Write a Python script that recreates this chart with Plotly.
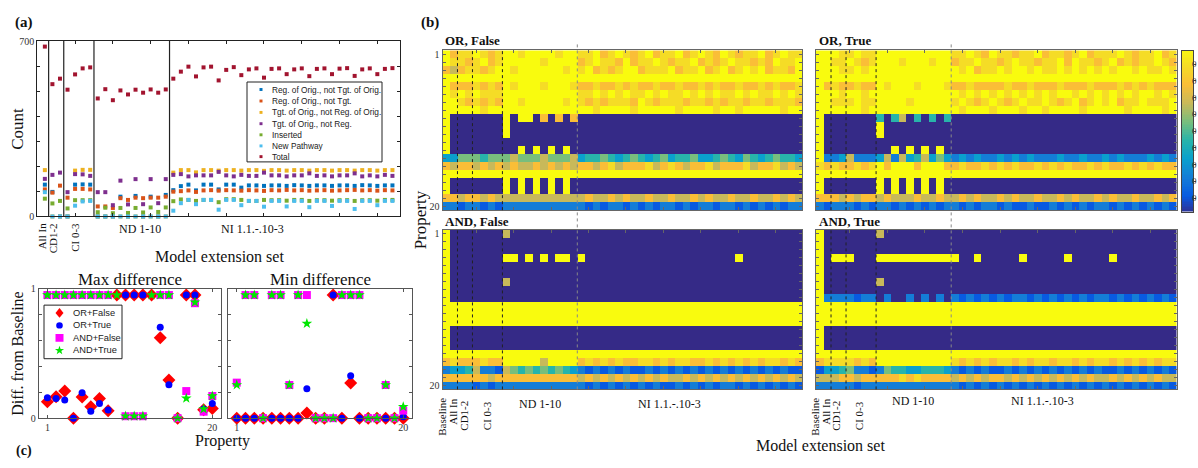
import math
import plotly.graph_objects as go

W, H = 1198, 468

# ---------------- Panel (a) data: 47 model extension sets ----------------
ext_x = list(range(1, 48))
reg_not_tgt_orig = [127, 98, 0, 0, 127, 128, 127,
                    0, 0, 0, 79, 0, 82, 0, 79, 0, 86,
                    105, 121, 127, 104, 127, 127, 108, 127, 127, 115,
                    124, 124, 122, 124, 124, 122, 125, 124, 122, 124,
                    124, 122, 124, 124, 122, 125, 124, 122, 124, 124]
reg_not_tgt = [108, 95, 123, 75, 110, 110, 108,
               40, 40, 34, 73, 66, 75, 73, 75, 75, 79,
               99, 101, 104, 98, 104, 105, 103, 105, 104, 103,
               105, 104, 102, 105, 104, 106, 104, 105, 103, 104,
               105, 103, 104, 105, 106, 104, 105, 103, 105, 104]
tgt_not_reg_orig = [185, 0, 0, 0, 183, 186, 186,
                    0, 0, 0, 0, 0, 0, 0, 0, 0, 0,
                    175, 185, 185, 176, 185, 185, 183, 185, 185, 183,
                    185, 185, 182, 185, 185, 183, 185, 185, 183, 185,
                    185, 183, 185, 185, 183, 185, 185, 183, 185, 185]
tgt_not_reg = [150, 166, 175, 97, 169, 168, 162,
               97, 97, 45, 143, 48, 149, 49, 149, 53, 149,
               166, 169, 160, 164, 164, 164, 178, 164, 160, 166,
               162, 162, 175, 164, 164, 160, 164, 164, 172, 162,
               164, 160, 164, 164, 172, 160, 164, 160, 166, 162]
inserted = [71, 52, 62, 32, 65, 65, 65,
            17, 35, 13, 34, 14, 34, 16, 36, 18, 36,
            61, 68, 66, 62, 66, 66, 57, 69, 69, 66,
            62, 62, 66, 65, 65, 63, 66, 66, 62, 65,
            65, 63, 65, 65, 62, 65, 65, 63, 66, 66]
new_pathway = [97, 0, 0, 0, 43, 60, 62,
               0, 0, 0, 0, 0, 0, 0, 0, 0, 0,
               23, 53, 66, 49, 66, 66, 27, 66, 66, 45,
               62, 62, 39, 62, 62, 40, 62, 62, 37, 62,
               62, 42, 62, 62, 30, 62, 62, 45, 62, 62]
total = [678, 528, 550, 506, 567, 591, 595,
         471, 508, 464, 503, 487, 506, 494, 507, 494, 507,
         550, 578, 598, 559, 595, 598, 543, 585, 596, 564,
         587, 591, 554, 589, 591, 568, 587, 591, 560, 589,
         591, 568, 590, 592, 561, 587, 591, 568, 589, 592]
a_group_edges = [1.5, 3.5, 7.5, 17.5]

# ---------------- Panel (c) data: 20 properties ----------------
props = list(range(1, 21))
max_or_false = [0.126, 0.166, 0.209, 0.0, 0.163, 0.088, 0.151, 0.058, 0.95, 0.95,
                0.95, 0.95, 0.95, 0.621, 0.294, 0.0, 0.95, 0.95, 0.065, 0.075]
max_or_true = [0.158, 0.151, 0.141, 0.0, 0.196, 0.053, 0.113, 0.063, None, 0.95,
               0.95, 0.95, None, 0.702, 0.257, 0.0, 0.95, 0.95, 0.07, 0.113]
max_and_false = [0.95, 0.95, 0.95, 0.95, 0.95, 0.95, 0.95, 0.95, None, 0.015,
                 0.015, 0.015, None, 0.95, 0.95, 0.0, 0.209, 0.887, 0.05, 0.171]
max_and_true = [0.95, 0.95, 0.95, 0.95, 0.95, 0.95, 0.95, 0.95, 0.95, 0.015,
                0.015, 0.015, 0.95, 0.95, 0.95, 0.0, 0.153, 0.894, 0.07, 0.171]
min_or_false = [0, 0, 0, 0, 0, 0, 0, 0, 0.04, 0,
                0, 0.95, 0, 0.272, 0, 0, 0, 0, 0, 0]
min_or_true = [0, 0, 0, 0, 0, 0, 0, 0, 0.226, 0,
               0, 0.95, 0, 0.327, 0, 0, 0, 0, 0, 0.01]
min_and_false = [0.274, 0.95, 0.95, 0, 0.95, 0.95, 0.256, 0.95, 0.95, 0,
                 0, 0, 0.95, 0.95, 0.95, 0, 0, 0.256, 0, 0.058]
min_and_true = [0.256, 0.95, 0.95, 0, 0.95, 0.95, 0.256, 0.95, 0.73, 0,
                0, 0, 0.95, 0.95, 0.95, 0, 0, 0.256, 0, 0.088]

# ---------------- Panel (b) data: 20 properties x 48 extension sets ----------------
# digit d -> value d/9 ; columns: Baseline | All In | CD1-2 | CI 0-3 | ND 1-10 | NI (30)
or_false_rows = [
    "9 7 88 9878 9989999899 8897898789 7889789879 8788978988",
    "9 8 87 8978 9999989999 7898879788 9878897878 9887879889",
    "7 6 78 8789 9899999989 8978789978 8897889789 7898978879",
    "9 9 99 9999 9999999999 9999999999 9999999999 9999999999",
    "9 7 77 8787 9899989998 7787787877 8778778787 7877878778",
    "9 8 98 9888 9999999999 8898989889 8988989898 8989889898",
    "9 9 87 8787 9989999989 8787888798 7888788787 8878878887",
    "9 9 99 9899 9999999999 9989999899 9998999989 9899999899",
    "9 0 00 0000 9099070707 0000000000 0000000000 0000000000",
    "9 0 00 0000 9000000000 0000000000 0000000000 0000000000",
    "9 0 00 0000 9000000000 0000000000 0000000000 0000000000",
    "9 0 00 0000 0000000000 0000000000 0000000000 0000000000",
    "9 0 00 0000 0090909090 0000000000 0000000000 0000000000",
    "3 3 55 5455 5655565556 3445434543 4534453345 4354345443",
    "7 6 77 6767 6766767676 7767867778 6787677867 7786778676",
    "9 9 99 9999 9999999999 9999999999 9999999999 9999999999",
    "9 0 00 0000 9090909090 0000000000 0000000000 0000000000",
    "9 0 00 0000 9090909090 0000000000 0000000000 0000000000",
    "7 7 67 7676 6666666666 6766767667 6676676766 7667667676",
    "2 2 12 2121 2222222222 2121221212 1221212212 2121212122",
]
or_true_rows = [
    "9 9 98 8988 9999999999 8898798878 8978878978 8898788978",
    "9 9 88 9878 9998999899 7889887898 8788979887 8978788987",
    "9 9 98 8989 9999999999 9897889899 8988989898 9899898898",
    "9 9 99 9999 9999999999 9999999999 9999999999 9999999999",
    "9 7 87 7877 9899989998 7787777877 8777877787 7787878777",
    "9 9 98 9989 9999999999 9898989898 9898998989 8989899898",
    "9 9 88 8988 9999899999 8987898789 8898789789 8978898889",
    "9 9 99 9989 9999999999 9899989998 9989999899 9998999989",
    "9 0 00 0000 4046040404 0000000000 0000000000 0000000000",
    "9 0 00 0000 9000000000 0000000000 0000000000 0000000000",
    "9 0 00 0000 9000000000 0000000000 0000000000 0000000000",
    "9 0 00 0000 0000000000 0000000000 0000000000 0000000000",
    "9 0 00 0000 0090909090 0000000000 0000000000 0000000000",
    "9 2 23 6222 3626346353 2323223232 3222322322 3232223232",
    "8 7 87 7878 9799979997 7877878787 7878787787 8778787877",
    "9 9 99 9999 9999999999 9999999999 9999999999 9999999999",
    "9 0 00 0000 9090909090 0000000000 0000000000 0000000000",
    "9 0 00 0000 9090909090 0000000000 0000000000 0000000000",
    "7 7 76 7677 6766676676 6767667676 6766767667 6766766767",
    "2 1 22 2121 2212121212 2121221211 2112121212 2121212121",
]
and_false_rows = [
    "9 0 00 0000 6000000000 0000000000 0000000000 0000000000",
    "9 0 00 0000 0000000000 0000000000 0000000000 0000000000",
    "9 0 00 0000 0000000000 0000000000 0000000000 0000000000",
    "9 0 00 0000 9909090990 9000000000 0000000000 0900000000",
    "9 0 00 0000 0000000000 0000000000 0000000000 0000000000",
    "9 0 00 0000 0000000000 0000000000 0000000000 0000000000",
    "9 0 00 0000 6000000000 0000000000 0000000000 0000000000",
    "9 0 00 0000 0000000000 0000000000 0000000000 0000000000",
    "9 0 00 0000 0000000000 0000000000 0000000000 0000000000",
    "9 9 99 9999 9999999999 9999999999 9999999999 9999999999",
    "9 9 99 9999 9999999999 9999999999 9999999999 9999999999",
    "9 9 99 9999 9999999999 9999999999 9999999999 9999999999",
    "9 0 00 0000 0000000000 0000000000 0000000000 0000000000",
    "9 0 00 0000 0000000000 0000000000 0000000000 0000000000",
    "9 0 00 0000 0000000000 0000000000 0000000000 0000000000",
    "9 9 99 9999 9999999999 9999999999 9999999999 9999999999",
    "7 8 77 7877 9999969999 7878787788 7878877878 7878788787",
    "2 3 34 6221 6545454543 2121212112 1212121212 1212121211",
    "7 7 77 7767 7777777777 6767676767 6766767676 7676767676",
    "2 2 22 1212 2222222222 2121212121 2112121212 2121212121",
]
and_true_rows = [
    "9 0 00 0000 6000000000 0000000000 0000000000 0000000000",
    "9 0 00 0000 0000000000 0000000000 0000000000 0000000000",
    "9 0 00 0000 0000000000 0000000000 0000000000 0000000000",
    "9 0 99 9000 9999999999 9009000009 0000090000 0900000000",
    "9 0 00 0000 0000000000 0000000000 0000000000 0000000000",
    "9 0 00 0000 0000000000 0000000000 0000000000 0000000000",
    "9 0 00 0000 6000000000 0000000000 0000000000 0000000000",
    "9 0 00 0000 0000000000 0000000000 0000000000 0000000000",
    "9 2 22 2122 0200202020 2121212122 1212121212 2121212121",
    "9 9 99 9999 9999999999 9999999999 9999999999 9999999999",
    "9 9 99 9999 9999999999 9999999999 9999999999 9999999999",
    "9 9 99 9999 9999999999 9999999999 9999999999 9999999999",
    "9 0 00 0000 0000000000 0000000000 0000000000 0000000000",
    "9 0 00 0000 0000000000 0000000000 0000000000 0000000000",
    "9 0 00 0000 0000000000 0000000000 0000000000 0000000000",
    "9 9 99 9999 9999999999 9999999999 9999999999 9999999999",
    "7 8 88 8787 9999999999 8787878878 7887887878 8787878788",
    "1 3 34 5221 2544334443 2121211212 1212121212 1121212121",
    "6 6 67 7677 7778787777 6767677676 7676767676 6767676766",
    "2 2 22 2122 2222222222 2121212121 2121212121 2121212121",
]
heat_cols = list(range(1, 49))
heat_rows = list(range(1, 21))
heat_group_edges = [2.5, 4.5, 8.5]
nd_ni_edge = 18.5
cbar_ticks = [0.1, 0.2, 0.3, 0.4, 0.5, 0.6, 0.7, 0.8, 0.9]
# in the original only the leading "0" of each colour-bar label fits on the page
cbar_visible_labels = ["0", "0", "0", "0", "0", "0", "0", "0", "0"]


def decode(rows):
    return [[int(c) / 9 for c in r.replace(" ", "")] for r in rows]


def X(px):
    return px / W


def Y(py):
    return 1 - py / H


def dx(l, r):
    return [l / W, r / W]


def dy(t, b):
    return [1 - b / H, 1 - t / H]


SERIF = "Liberation Serif"
SANS = "Liberation Sans"

fig = go.Figure()

# ---- panel (a) ----
series_a = [
    ("Reg. of Orig., not Tgt. of Orig.", reg_not_tgt_orig, "rgb(0,114,189)"),
    ("Reg. of Orig., not Tgt.", reg_not_tgt, "rgb(217,83,25)"),
    ("Tgt. of Orig., not Reg. of Orig.", tgt_not_reg_orig, "rgb(237,177,32)"),
    ("Tgt. of Orig., not Reg.", tgt_not_reg, "rgb(126,47,142)"),
    ("Inserted", inserted, "rgb(119,172,48)"),
    ("New Pathway", new_pathway, "rgb(77,190,238)"),
    ("Total", total, "rgb(162,20,47)"),
]
for name, vals, col in series_a:
    fig.add_trace(go.Scatter(
        x=ext_x, y=vals, mode="markers", name=name, showlegend=False,
        marker=dict(symbol="square", size=4, color=col),
        xaxis="x", yaxis="y", cliponaxis=False))

# ---- panel (c) ----
series_c = [
    ("OR+False", max_or_false, min_or_false, "diamond", 10, "rgb(255,0,0)"),
    ("OR+True", max_or_true, min_or_true, "circle", 7, "rgb(0,0,255)"),
    ("AND+False", max_and_false, min_and_false, "square", 8, "rgb(255,0,255)"),
    ("AND+True", max_and_true, min_and_true, "star", 8, "rgb(0,230,0)"),
]
for name, vmax, vmin, sym, sz, col in series_c:
    for vals, xa, ya in ((vmax, "x2", "y2"), (vmin, "x3", "y3")):
        fig.add_trace(go.Scatter(
            x=props, y=vals, mode="markers", name=name, showlegend=False,
            marker=dict(symbol=sym, size=sz, color=col, line=dict(width=0)),
            xaxis=xa, yaxis=ya, cliponaxis=False))

# ---- panel (b) heatmaps ----
heat = [(or_false_rows, "x4", "y4"), (or_true_rows, "x5", "y5"),
        (and_false_rows, "x6", "y6"), (and_true_rows, "x7", "y7")]
for rows, xa, ya in heat:
    fig.add_trace(go.Heatmap(
        z=decode(rows), x=heat_cols, y=heat_rows, coloraxis="coloraxis",
        xaxis=xa, yaxis=ya, hoverinfo="skip"))

# colour bar drawn as its own strip
cbar_levels = [k / 100 for k in range(101)]
fig.add_trace(go.Heatmap(z=[[v] for v in cbar_levels], x=[0], y=cbar_levels,
                         coloraxis="coloraxis", xaxis="x8", yaxis="y8",
                         hoverinfo="skip"))

parula = [
    [0 / 9, "rgb(53,42,135)"],
    [1 / 9, "rgb(8,90,225)"],
    [2 / 9, "rgb(20,125,215)"],
    [3 / 9, "rgb(10,160,205)"],
    [4 / 9, "rgb(40,180,170)"],
    [5 / 9, "rgb(120,190,125)"],
    [6 / 9, "rgb(200,185,90)"],
    [7 / 9, "rgb(250,190,55)"],
    [8 / 9, "rgb(245,220,38)"],
    [9 / 9, "rgb(249,251,14)"],
]

tickfont = dict(family=SERIF, size=10, color="#333")


def frame(color="#333"):
    return dict(showline=True, linecolor=color, linewidth=1, mirror="ticks",
                ticks="inside", ticklen=3, tickcolor=color, showgrid=False,
                zeroline=False, tickfont=tickfont)


ax = {}
ax["xaxis"] = dict(frame("#222"), domain=dx(37.3, 400), range=[0, 48],
                   tickvals=[5, 10, 15, 20, 25, 30, 35, 40, 45],
                   showticklabels=False, anchor="y")
ax["yaxis"] = dict(frame("#222"), domain=dy(36, 216), range=[0, 700],
                   tickvals=[0, 100, 200, 300, 400, 500, 600, 700],
                   ticktext=["0", "", "", "", "", "", "", "700"], anchor="x")
for i, (l, r) in zip([2, 3], [(38.7, 221), (228, 412)]):
    ax[f"xaxis{i}"] = dict(frame("#555"), domain=dx(l, r), range=[0, 21],
                           tickvals=[1, 20], ticktext=["1", "20"], anchor=f"y{i}")
    ax[f"yaxis{i}"] = dict(frame("#555"), domain=dy(290, 423), range=[0, 1],
                           tickvals=[0, 0.2, 0.4, 0.6, 0.8, 1],
                           ticktext=["0", "", "", "", "", "1"],
                           showticklabels=(i == 2), anchor=f"x{i}")
heat_dom = {4: ((442.5, 802), (45.5, 209.5)), 5: ((816, 1176.5), (45.5, 209.5)),
            6: ((442.5, 802), (229.5, 393.5)), 7: ((816, 1176.5), (229.5, 393.5))}
for i, ((l, r), (t, b)) in heat_dom.items():
    ax[f"xaxis{i}"] = dict(frame("#666"), domain=dx(l, r), range=[0.5, 48.5],
                           tickvals=[5, 10, 15, 20, 25, 30, 35, 40, 45],
                           showticklabels=False, anchor=f"y{i}")
    ax[f"yaxis{i}"] = dict(frame("#666"), domain=dy(t, b), range=[20.5, 0.5],
                           tickvals=heat_rows,
                           ticktext=["1"] + [""] * 18 + ["20"],
                           showticklabels=(i in (4, 6)), anchor=f"x{i}")
ax["xaxis8"] = dict(domain=dx(1182, 1193), range=[-0.5, 0.5], showline=True,
                    mirror=True, linecolor="#444", linewidth=1, ticks="",
                    showticklabels=False, showgrid=False, zeroline=False, anchor="y8")
ax["yaxis8"] = dict(domain=dy(46, 211), range=[0.02, 0.98], side="right",
                    showline=True, mirror=True, linecolor="#444", linewidth=1,
                    ticks="outside", ticklen=2, tickcolor="#444",
                    tickvals=cbar_ticks, showticklabels=False, showgrid=False,
                    zeroline=False, anchor="x8")

shapes = []
for v in a_group_edges:
    shapes.append(dict(type="line", xref="x", yref="y domain", x0=v, x1=v, y0=0, y1=1,
                       line=dict(color="#222", width=1.2)))
for i in (4, 5, 6, 7):
    for v in heat_group_edges:
        shapes.append(dict(type="line", xref=f"x{i}", yref=f"y{i} domain", x0=v, x1=v,
                           y0=0, y1=1, line=dict(color="#222", width=1, dash="dot")))
for xa in ("x4", "x5"):
    shapes.append(dict(type="line", xref=xa, yref="paper", x0=nd_ni_edge, x1=nd_ni_edge,
                       y0=Y(393.5), y1=Y(38), line=dict(color="#888", width=1, dash="dot")))


def ann(text, x, y, size, bold=False, angle=0, xanchor="center", yanchor="middle",
        family=SERIF, color="#111"):
    return dict(text=(f"<b>{text}</b>" if bold else text), x=X(x), y=Y(y),
                xref="paper", yref="paper", showarrow=False, textangle=angle,
                xanchor=xanchor, yanchor=yanchor,
                font=dict(family=family, size=size, color=color))


annotations = [
    ann("(a)", 13, 17, 15, bold=True, xanchor="left"),
    ann("Count", 18, 126, 17, angle=-90),
    ann("Model extension set", 219, 257, 16),
    ann("All In", 42, 221, 11, angle=-90, yanchor="top"),
    ann("CD1-2", 53, 221, 11, angle=-90, yanchor="top"),
    ann("CI 0-3", 75, 221, 11, angle=-90, yanchor="top"),
    ann("ND 1-10", 140, 229, 12),
    ann("NI 1.1.-.10-3", 252, 229, 12),
    ann("(b)", 419, 17, 15, bold=True, xanchor="left"),
    ann("OR, False", 443, 35, 13, bold=True, xanchor="left"),
    ann("OR, True", 817, 35, 13, bold=True, xanchor="left"),
    ann("AND, False", 443, 221, 13, bold=True, xanchor="left"),
    ann("AND, True", 817, 221, 13, bold=True, xanchor="left"),
    ann("Property", 420, 220, 17, angle=-90),
    ann("Model extension set", 820, 451, 16),
    ann("Max difference", 130, 281, 17),
    ann("Min difference", 320, 281, 17),
    ann("Diff. from Baseline", 18, 357, 16, angle=-90),
    ann("Property", 222, 446, 16),
    ann("(c)", 14, 457, 14, bold=True, xanchor="left"),
]
for v, lab in zip(cbar_ticks, cbar_visible_labels):
    annotations.append(dict(text=lab, xref="paper", x=1, xanchor="right", yref="y8", y=v,
                            yanchor="middle", showarrow=False, borderpad=0,
                            font=dict(family=SERIF, size=9, color="#333")))
for (bx, ax_, cx, cix, ndx, nix, ny) in [(442, 453, 464, 487, 540, 669, 408),
                                          (815, 826, 836, 859, 913, 1042, 405)]:
    annotations += [
        ann("Baseline", bx, 400, 11, angle=-90, yanchor="top"),
        ann("All In", ax_, 401, 11, angle=-90, yanchor="top"),
        ann("CD1-2", cx, 403, 11, angle=-90, yanchor="top"),
        ann("CI 0-3", cix, 404, 11, angle=-90, yanchor="top"),
        ann("ND 1-10", ndx, ny, 12),
        ann("NI 1.1.-.10-3", nix, ny, 12),
    ]


# ---- legend boxes (drawn, so they can be as compact as the original) ----
def box(l, t, r, b):
    return dict(type="rect", xref="paper", yref="paper", x0=X(l), x1=X(r),
                y0=Y(b), y1=Y(t), line=dict(color="#222", width=1), fillcolor="white",
                layer="above")


shapes.append(box(247, 78, 382, 160))
leg_a_y = [85.7, 97.5, 109.2, 120.8, 132.2, 143.6, 154.6]
for (name, _, col), yy in zip(series_a, leg_a_y):
    shapes.append(dict(type="rect", xref="paper", yref="paper", layer="above",
                       x0=X(259.5), x1=X(262.5), y0=Y(yy + 1.5), y1=Y(yy - 1.5),
                       fillcolor=col, line=dict(width=0)))
    annotations.append(ann(name, 270, yy, 8.3, xanchor="left", family=SANS, color="#222"))

shapes.append(box(44, 307, 122, 362))
leg_c_y = [315, 327.8, 340.6, 353.5]
cx0 = 59.5


def path_from(points):
    return "M " + " L ".join(f"{X(px):.6f},{Y(py):.6f}" for px, py in points) + " Z"


for (name, _, _, sym, sz, col), yy in zip(series_c, leg_c_y):
    if sym == "diamond":
        pts = [(cx0, yy - 5), (cx0 + 4, yy), (cx0, yy + 5), (cx0 - 4, yy)]
        shapes.append(dict(type="path", xref="paper", yref="paper", layer="above",
                           path=path_from(pts), fillcolor=col, line=dict(width=0)))
    elif sym == "circle":
        shapes.append(dict(type="circle", xref="paper", yref="paper", layer="above",
                           x0=X(cx0 - 3.3), x1=X(cx0 + 3.3), y0=Y(yy + 3.3), y1=Y(yy - 3.3),
                           fillcolor=col, line=dict(width=0)))
    elif sym == "square":
        shapes.append(dict(type="rect", xref="paper", yref="paper", layer="above",
                           x0=X(cx0 - 4), x1=X(cx0 + 4), y0=Y(yy + 4), y1=Y(yy - 4),
                           fillcolor=col, line=dict(width=0)))
    else:
        pts = []
        for k in range(10):
            rad = 4.8 if k % 2 == 0 else 1.9
            ang = -math.pi / 2 + k * math.pi / 5
            pts.append((cx0 + rad * math.cos(ang), yy + rad * math.sin(ang)))
        shapes.append(dict(type="path", xref="paper", yref="paper", layer="above",
                           path=path_from(pts), fillcolor=col, line=dict(width=0)))
    annotations.append(ann(name, 70.5, yy, 9.3, xanchor="left", family=SANS, color="#222"))

fig.update_layout(
    width=W, height=H, margin=dict(l=0, r=0, t=0, b=0),
    paper_bgcolor="white", plot_bgcolor="white",
    showlegend=False,
    coloraxis=dict(colorscale=parula, cmin=0, cmax=1, showscale=False),
    shapes=shapes, annotations=annotations,
    **ax,
)

fig.write_html("out.html")
